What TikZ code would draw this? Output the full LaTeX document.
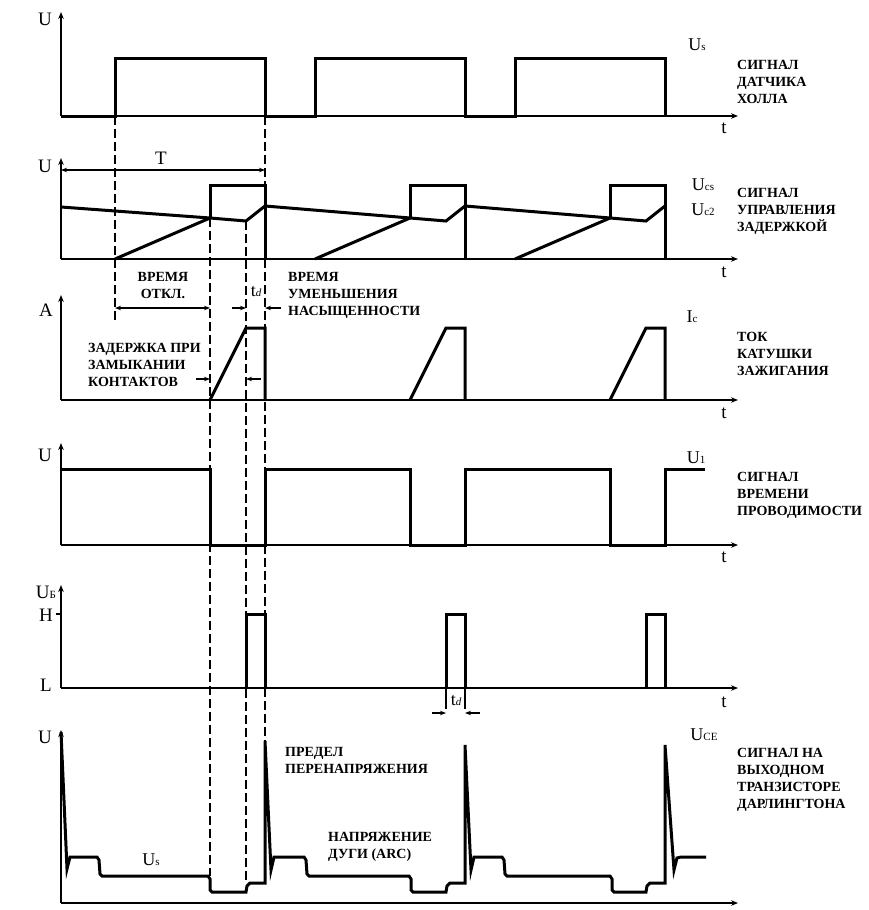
\documentclass[tikz,border=0pt]{standalone}
\usepackage{fontspec}
\setmainfont{Liberation Serif}
\usetikzlibrary{arrows.meta}
\newcommand\lowsub[1]{{\fontsize{11}{11}\selectfont #1}}
\begin{document}
\begin{tikzpicture}[x=1pt,y=-1pt,
  sig/.style={line width=3pt, line join=miter},
  axisline/.style={line width=2.6pt, -{Stealth[length=7pt,width=5.5pt]}},
  guide/.style={line width=1.8pt, dash pattern=on 9pt off 4pt},
  dim/.style={line width=1.3pt, {Stealth[length=6pt,width=4.5pt]}-{Stealth[length=6pt,width=4.5pt]}},
  ptr/.style={line width=1.3pt, -{Stealth[length=6pt,width=4.5pt]}},
  tickline/.style={line width=1.3pt},
  lbl/.style={font=\fontsize{14}{17}\selectfont\bfseries, align=left, anchor=north west, inner sep=0pt},
  lblc/.style={font=\fontsize{14}{17}\selectfont\bfseries, align=center, anchor=north, inner sep=0pt},
  ax/.style={font=\fontsize{19}{19}\selectfont, inner sep=0pt},
  sl/.style={font=\fontsize{18}{18}\selectfont, inner sep=0pt},
]
\useasboundingbox (0,0) rectangle (869,910);

% ---------- guide lines ----------
\draw[guide] (115,116) -- (115,320);
\draw[guide] (210,218) -- (210,876);
\draw[guide] (246,221) -- (246,883);
\draw[guide] (265,116) -- (265,741);

% ---------- panel 1 ----------
\draw[axisline] (61,116) -- (61,12);
\draw[axisline] (61,116) -- (738,116);
\draw[sig] (61,116) -- (115,116) -- (115,58) -- (265,58) -- (265,116) -- (315,116) -- (315,58) -- (465,58) -- (465,116) -- (515,116) -- (515,58) -- (665,58) -- (665,116);
\node[ax] (u1) at (45,19) {U};
\node[ax] (t1) at (724,128) {t};
\node[sl] (us) at (697,45) {U\lowsub{s}};
\node[lbl] (c1) at (737,60.5) {СИГНАЛ\\ДАТЧИКА\\ХОЛЛА};

% ---------- panel 2 ----------
\draw[axisline] (61,259) -- (61,158);
\draw[axisline] (61,259) -- (738,259);
\draw[dim] (61,170) -- (265,170);
\node[ax] (T) at (161,158) {T};
\foreach \o in {0,200,400}{
  \draw[sig] (210+\o,218) -- (210+\o,185) -- (265+\o,185) -- (265+\o,259);
  \draw[sig] (115+\o,259) -- (210+\o,218);
}
\draw[sig] (61,207) -- (210,218) -- (246,221) -- (265,206) -- (410,218) -- (446,221) -- (465,206) -- (610,218) -- (646,221) -- (665,206);
\node[ax] (u2) at (45,166) {U};
\node[ax] (t2) at (724,272) {t};
\node[sl] (ucs) at (703,185) {U\lowsub{cs}};
\node[sl] (ucz) at (703,210) {U\lowsub{c2}};
\node[lbl] (c2) at (737,188.5) {СИГНАЛ\\УПРАВЛЕНИЯ\\ЗАДЕРЖКОЙ};

% ---------- annotations between 2 and 3 ----------
\node[lblc] (off) at (163,272.5) {ВРЕМЯ\\ОТКЛ.};
\draw[dim] (115,308) -- (210,308);
\coordinate (tdl) at (232,308);
\coordinate (tdr) at (281,308);
\draw[ptr] (tdl) -- (246,308);
\draw[ptr] (tdr) -- (265,308);
\node[sl] (td1) at (256,292) {t\lowsub{\itshape d}};
\node[lbl] (sat) at (288,272.5) {ВРЕМЯ\\УМЕНЬШЕНИЯ\\НАСЫЩЕННОСТИ};

% ---------- panel 3 ----------
\draw[axisline] (61,400) -- (61,295);
\draw[axisline] (61,400) -- (738,400);
\foreach \o in {0,200,400}{
  \draw[sig] (210+\o,400) -- (246+\o,328) -- (265+\o,328) -- (265+\o,400);
}
\node[ax] (a3) at (46,310) {A};
\node[ax] (t3) at (724,413) {t};
\node[sl] (ic) at (692,317) {I\lowsub{c}};
\node[lbl] (c3) at (737,332.5) {ТОК\\КАТУШКИ\\ЗАЖИГАНИЯ};
\node[lbl] (dly) at (88,343.5) {ЗАДЕРЖКА ПРИ\\ЗАМЫКАНИИ\\КОНТАКТОВ};
\coordinate (dl) at (196,379);
\coordinate (dr) at (261,379);
\draw[ptr] (dl) -- (210,379);
\draw[ptr] (dr) -- (246,379);

% ---------- panel 4 ----------
\draw[axisline] (61,545) -- (61,443);
\draw[axisline] (61,545) -- (738,545);
\draw[sig] (61,469) -- (210,469) -- (210,545) -- (265,545) -- (265,469) -- (410,469) -- (410,545) -- (465,545) -- (465,469) -- (610,469) -- (610,545) -- (665,545) -- (665,469) -- (705,469);
\node[ax] (u4) at (45,455) {U};
\node[ax] (t4) at (724,557) {t};
\node[sl] (u1l) at (696,458) {U\lowsub{1}};
\node[lbl] (c4) at (737,472.5) {СИГНАЛ\\ВРЕМЕНИ\\ПРОВОДИМОСТИ};

% ---------- panel 5 ----------
\draw[axisline] (61,688) -- (61,585);
\draw[axisline] (61,688) -- (738,688);
\draw[tickline] (56,614) -- (61,614);
\foreach \o in {0,200,400}{
  \draw[sig] (246+\o,688) -- (246+\o,614) -- (265+\o,614) -- (265+\o,688);
}
\node[ax] (ub) at (46,592) {U\lowsub{Б}};
\node[ax] (h5) at (46,615) {H};
\node[ax] (l5) at (46,685) {L};
\node[ax] (t5) at (724,702) {t};
\draw[tickline] (446,688) -- (446,709);
\draw[tickline] (465,688) -- (465,709);
\coordinate (el) at (432,713);
\coordinate (er) at (480,713);
\draw[ptr] (el) -- (446,713);
\draw[ptr] (er) -- (465,713);
\node[sl] (td2) at (456,701) {t\lowsub{\itshape d}};

% ---------- panel 6 ----------
\draw[axisline] (61,903) -- (61,730);
\draw[axisline] (61,903) -- (738,903);
\draw[sig] (61,732) -- (67,869) -- (70,857) -- (97,857) -- (99,860) -- (100,874) -- (102,876) -- (208,876) -- (210,879) -- (210,890) -- (212,892) -- (246,892) -- (247,886) -- (250,883) -- (265,883)
  -- (265,741) -- (271,870) -- (274,857) -- (304,857) -- (306,860) -- (307,874) -- (309,876) -- (409,876) -- (411,879) -- (411,890) -- (413,892) -- (446,892) -- (447,886) -- (450,883) -- (465,883)
  -- (465,745) -- (471,870) -- (474,857) -- (502,857) -- (504,860) -- (505,874) -- (507,876) -- (610,876) -- (612,879) -- (612,890) -- (614,892) -- (646,892) -- (647,886) -- (650,883) -- (665,883)
  -- (665,745) -- (674,870) -- (677,858) -- (681,857) -- (706,857);
\node[ax] (u6) at (45,737) {U};
\node[sl] (uce) at (704,735) {U\lowsub{CE}};
\node[sl] (us6) at (151,860) {U\lowsub{s}};
\node[lbl] (lim) at (285,747.5) {ПРЕДЕЛ\\ПЕРЕНАПРЯЖЕНИЯ};
\node[lbl] (arc) at (328,832.5) {НАПРЯЖЕНИЕ\\ДУГИ (ARC)};
\node[lbl] (c6) at (737,748.5) {СИГНАЛ НА\\ВЫХОДНОМ\\ТРАНЗИСТОРЕ\\ДАРЛИНГТОНА};
\end{tikzpicture}
\end{document}
